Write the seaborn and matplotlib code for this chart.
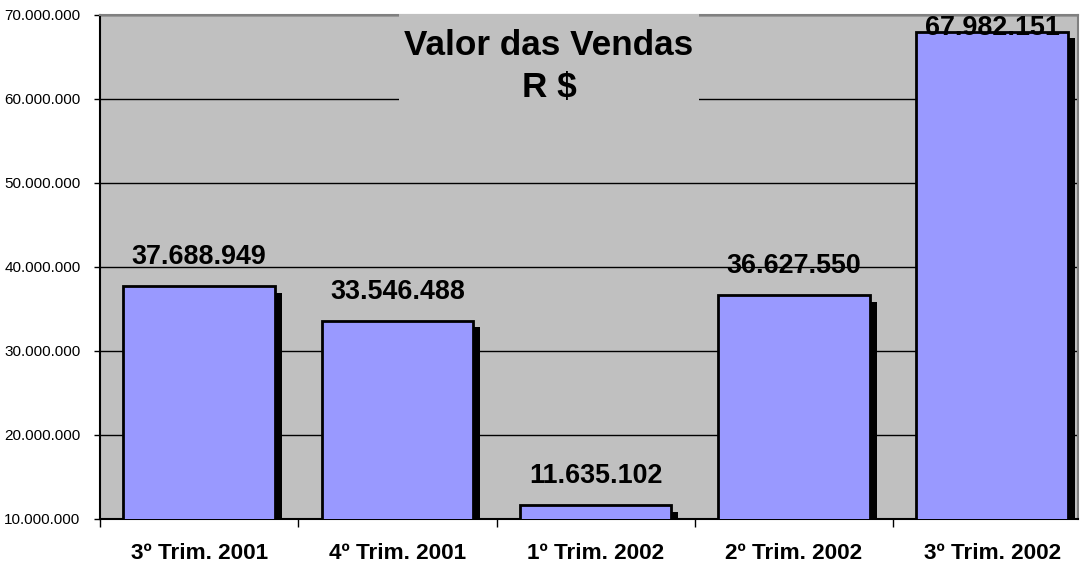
import matplotlib
matplotlib.use("Agg")
import matplotlib.pyplot as plt
import matplotlib.patheffects as pe
from matplotlib.patches import Rectangle
from matplotlib.ticker import FuncFormatter, FixedLocator
import seaborn as sns
import pandas as pd

categories = ["3º Trim. 2001", "4º Trim. 2001", "1º Trim. 2002", "2º Trim. 2002", "3º Trim. 2002"]
values = [37688949, 33546488, 11635102, 36627550, 67982151]
yticks = [10000000, 20000000, 30000000, 40000000, 50000000, 60000000, 70000000]
title_lines = ["Valor das Vendas", "R $"]

sns.set_theme(style="white")
plt.rcParams['font.family'] = ['Liberation Sans', 'DejaVu Sans']
plt.rcParams['text.color'] = 'black'
plt.rcParams['xtick.color'] = 'black'
plt.rcParams['ytick.color'] = 'black'
plt.rcParams['axes.labelcolor'] = 'black'

W, H = 1081, 562
fig = plt.figure(figsize=(W / 100, H / 100), dpi=100)
fig.patch.set_facecolor("white")
ax = fig.add_axes([100 / W, (H - 519) / H, (1078 - 100) / W, (519 - 15) / H])
ax.set_facecolor("#C0C0C0")

df = pd.DataFrame({"cat": categories, "val": values})
sns.barplot(data=df, x="cat", y="val", color="#9999FF", saturation=1, width=0.765,
            edgecolor="black", linewidth=2, ax=ax, zorder=3)
for p in ax.patches:
    p.set_path_effects([pe.SimplePatchShadow(offset=(5, -4.5), shadow_rgbFace="black", alpha=1),
                        pe.Normal()])

ax.set_ylim(yticks[0], yticks[-1])
cat_w = 198.25
ax.set_xlim(-0.5, -0.5 + (1078 - 100) / cat_w)
ax.yaxis.set_major_locator(FixedLocator(yticks))
ax.yaxis.set_major_formatter(FuncFormatter(lambda v, _: f"{v:,.0f}".replace(",", ".")))
ax.grid(axis="y", color="black", linewidth=1)
ax.set_axisbelow(True)

ax.set_xticks([i for i in range(len(categories))])
ax.set_xticklabels(categories, fontsize=16.2, fontweight="bold", color="black")
ax.xaxis.set_minor_locator(FixedLocator([i + 0.5 for i in range(-1, len(categories))]))
ax.tick_params(axis="x", which="major", length=0, pad=17)
ax.tick_params(axis="x", which="minor", length=6, width=1, color="black", direction="out", bottom=True)
ax.tick_params(axis="y", length=4, width=1, color="black", direction="out", left=True,
               labelsize=11, pad=10, labelcolor="black")
ax.set_xlabel("")
ax.set_ylabel("")

for side in ["left", "bottom"]:
    ax.spines[side].set_color("black")
    ax.spines[side].set_linewidth(1.5)
for side in ["top", "right"]:
    ax.spines[side].set_color("#808080")
    ax.spines[side].set_linewidth(1.5)

# data labels
px = (yticks[-1] - yticks[0]) / (519 - 15)
gap = 22 * px
txt_h = 20 * px
for i, v in enumerate(values):
    y = min(v + gap, yticks[-1] - txt_h)
    ax.text(i, y, f"{v:,.0f}".replace(",", "."), ha="center", va="baseline",
            fontsize=19.4, fontweight="bold", color="black", zorder=6)

# title box
rect = Rectangle((399 / W, (H - 106) / H), 300 / W, 92 / H, transform=fig.transFigure,
                 facecolor="#C0C0C0", edgecolor="none", zorder=4, clip_on=False)
ax.add_patch(rect)
fig.text(549 / W, (H - 55) / H, title_lines[0], ha="center", va="baseline",
         fontsize=25.3, fontweight="bold", color="black", zorder=7)
fig.text(549 / W, (H - 97) / H, title_lines[1], ha="center", va="baseline",
         fontsize=25.3, fontweight="bold", color="black", zorder=7)

fig.savefig("out.png", dpi=100)
